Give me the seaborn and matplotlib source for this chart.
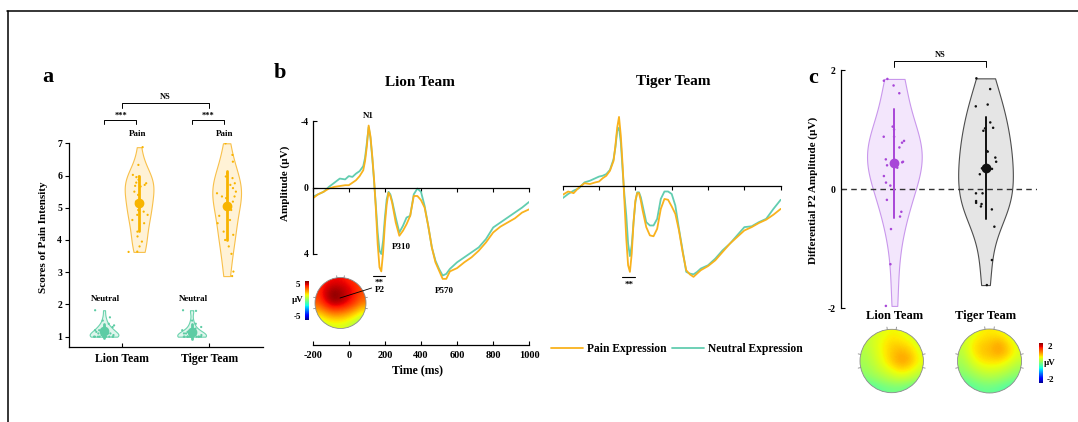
import numpy as np
import pandas as pd
import matplotlib
matplotlib.use("Agg")
import matplotlib.pyplot as plt
import seaborn as sns
from matplotlib.lines import Line2D
from matplotlib.patches import Circle
from matplotlib.colors import to_rgba

# ---------------- data ----------------
TEAMS = ["Lion Team", "Tiger Team"]
CONDS = ["Neutral", "Pain"]

LION_PAIN_SCORE = [6.88, 6.33, 6.02, 5.97, 5.95, 5.87, 5.78, 5.76, 5.71, 5.68, 5.66, 5.50, 5.40,
                   5.19, 5.16, 5.14, 4.93, 4.88, 4.78, 4.78, 4.62, 4.52, 4.26, 4.11, 3.95, 3.80,
                   3.64, 3.63]
TIGER_PAIN_SCORE = [7.00, 6.64, 6.43, 6.07, 5.97, 5.92, 5.76, 5.71, 5.61, 5.50, 5.45, 5.35, 5.35,
                    5.30, 5.19, 4.93, 4.75, 4.62, 4.52, 4.26, 4.16, 4.00, 3.80, 3.57, 3.02, 2.88]
LION_NEUTRAL_SCORE = [1.82, 1.60, 1.50, 1.40, 1.35, 1.30, 1.25, 1.20, 1.20, 1.15, 1.10, 1.10, 1.05,
                      1.00, 1.00, 1.00, 1.00, 1.00, 1.00, 1.00, 1.00, 1.05, 1.10, 1.20, 1.30, 1.15,
                      1.00, 1.00]
TIGER_NEUTRAL_SCORE = [1.82, 1.80, 1.50, 1.40, 1.30, 1.25, 1.20, 1.15, 1.10, 1.10, 1.05, 1.00, 1.00,
                       1.00, 1.00, 1.00, 1.00, 1.00, 1.00, 1.05, 1.10, 1.15, 1.00, 1.00, 1.00, 1.00]

TIME = [-200, -170, -140, -110, -80, -50, -20, 0, 20, 40, 60, 80, 90, 100, 110, 120, 130, 140,
        150, 160, 170, 180, 190, 200, 210, 220, 230, 240, 260, 280, 300, 320, 340, 360, 380, 400,
        420, 440, 460, 480, 500, 520, 540, 560, 600, 640, 680, 720, 760, 800, 840, 880, 920, 960,
        1000]
LION_PAIN_ERP = [0.65, 0.4, 0.25, 0.05, -0.05, -0.1, -0.15, -0.15, -0.3, -0.45, -0.7, -1.05, -1.6,
                 -2.5, -3.75, -3.1, -1.9, -0.5, 1.3, 3.4, 4.8, 5.05, 3.9, 2.2, 1.0, 0.3, 0.5, 0.9,
                 2.1, 2.9, 2.6, 2.2, 1.7, 0.5, 0.5, 0.75, 1.2, 2.3, 3.6, 4.5, 5.0, 5.5, 5.5, 5.05,
                 4.85, 4.5, 4.2, 3.8, 3.3, 2.7, 2.35, 2.1, 1.85, 1.5, 1.3]
LION_NEUTRAL_ERP = [0.55, 0.4, 0.25, -0.05, -0.3, -0.55, -0.5, -0.7, -0.65, -0.85, -1.0, -1.3, -1.8,
                    -2.7, -3.65, -3.0, -1.8, -0.4, 1.1, 2.7, 3.8, 4.0, 3.2, 1.8, 0.7, 0.25, 0.4, 0.8,
                    1.8, 2.7, 2.3, 1.8, 1.7, 0.4, 0.05, 0.25, 1.1, 2.3, 3.6, 4.4, 4.9, 5.3, 5.2, 4.9,
                    4.5, 4.2, 3.9, 3.6, 3.1, 2.4, 2.1, 1.8, 1.5, 1.2, 0.85]
TIGER_PAIN_ERP = [0.55, 0.35, 0.45, 0.1, -0.15, -0.1, -0.2, -0.25, -0.45, -0.6, -0.9, -1.5, -2.4,
                  -3.5, -4.15, -3.0, -1.2, 1.0, 3.2, 4.8, 5.2, 4.1, 2.2, 0.9, 0.45, 0.45, 0.9, 1.5,
                  2.5, 3.0, 3.05, 2.6, 1.4, 0.8, 0.85, 1.25, 1.7, 2.7, 4.0, 5.1, 5.35, 5.5, 5.3, 5.1,
                  4.85, 4.5, 4.0, 3.5, 3.1, 2.7, 2.5, 2.25, 2.05, 1.75, 1.4]
TIGER_NEUTRAL_ERP = [0.75, 0.5, 0.3, 0.15, -0.2, -0.3, -0.45, -0.55, -0.6, -0.7, -0.95, -1.6, -2.3,
                     -3.3, -3.5, -2.6, -0.9, 0.6, 1.8, 3.5, 4.25, 3.6, 2.2, 1.0, 0.4, 0.4, 0.7, 1.2,
                     2.2, 2.4, 2.4, 2.0, 0.8, 0.35, 0.35, 0.5, 1.2, 2.6, 3.9, 5.2, 5.3, 5.35, 5.2, 5.0,
                     4.8, 4.4, 3.9, 3.5, 3.0, 2.5, 2.45, 2.2, 2.0, 1.4, 0.85]

LION_P2_DIFF = [1.85, 1.82, 1.74, 1.61, 1.05, 1.00, 0.88, 0.88, 0.81, 0.78, 0.70, 0.50, 0.46, 0.45,
                0.40, 0.36, 0.22, 0.11, 0.06, -0.18, -0.46, -0.38, -0.67, -1.26, -1.96]
TIGER_P2_DIFF = [1.86, 1.68, 1.42, 1.39, 1.02, 0.98, 1.03, 1.12, 0.63, 0.64, 0.53, 0.46, 0.35, 0.25,
                 0.34, -0.07, -0.07, -0.20, -0.25, -0.23, -0.29, -0.34, -0.63, -1.19, -1.61]

TOPO_LION_B = [[3.5, 3.8, 4.0, 4.0, 3.8, 3.5, 3.2],
               [3.6, 4.2, 4.6, 4.5, 4.2, 3.8, 3.3],
               [3.5, 4.4, 5.0, 4.8, 4.3, 3.8, 3.2],
               [3.2, 4.0, 4.6, 4.5, 4.0, 3.5, 2.8],
               [2.4, 3.0, 3.4, 3.3, 3.0, 2.5, 1.8],
               [1.4, 1.9, 2.2, 2.2, 1.9, 1.4, 0.8],
               [0.6, 1.0, 1.2, 1.2, 1.0, 0.6, 0.2]]
TOPO_LION_C = [[0.3, 0.4, 0.5, 0.6, 0.55, 0.45, 0.35],
               [0.3, 0.45, 0.6, 0.75, 0.7, 0.6, 0.4],
               [0.25, 0.4, 0.6, 0.8, 0.9, 0.8, 0.5],
               [0.2, 0.35, 0.55, 0.8, 1.0, 0.9, 0.55],
               [0.15, 0.25, 0.4, 0.55, 0.7, 0.6, 0.4],
               [0.0, 0.1, 0.2, 0.3, 0.35, 0.3, 0.15],
               [-0.3, -0.2, -0.1, -0.05, -0.05, -0.15, -0.3]]
TOPO_TIGER_C = [[0.3, 0.45, 0.6, 0.65, 0.6, 0.5, 0.35],
                [0.35, 0.6, 0.75, 0.8, 0.95, 0.7, 0.45],
                [0.3, 0.6, 0.8, 0.85, 1.0, 0.8, 0.5],
                [0.2, 0.45, 0.65, 0.7, 0.7, 0.55, 0.35],
                [0.1, 0.25, 0.4, 0.45, 0.4, 0.3, 0.15],
                [-0.05, 0.05, 0.15, 0.2, 0.15, 0.05, -0.05],
                [-0.3, -0.2, -0.1, -0.1, -0.15, -0.25, -0.35]]

# ---------------- colours ----------------
PAIN_FILL, PAIN_EDGE, PAIN_DOT = "#FFF2D6", "#F8C04A", "#F8B400"
NEU_FILL, NEU_EDGE, NEU_DOT = "#DFF5EC", "#6CD3AE", "#5DCCA4"
ERP_PAIN, ERP_NEU = "#F9B21D", "#62CDB0"
LION_FILL, LION_EDGE, LION_DOT = "#F3E6FC", "#C997EC", "#A846D8"
TIGER_FILL, TIGER_EDGE, TIGER_DOT = "#E5E5E5", "#4D4D4D", "#111111"

# ---------------- setup ----------------
sns.set_theme(style="ticks", rc={"axes.edgecolor": "black", "xtick.color": "black",
                                 "ytick.color": "black", "text.color": "black",
                                 "axes.labelcolor": "black"})
plt.rcParams['font.family'] = ['Liberation Serif', 'DejaVu Serif']
plt.rcParams['font.weight'] = 'bold'
plt.rcParams['axes.labelweight'] = 'bold'
plt.rcParams['axes.unicode_minus'] = False

W, H = 1078, 422
fig = plt.figure(figsize=(W / 100, H / 100), dpi=100)


def box(x0, y0, x1, y1):
    return fig.add_axes([x0 / W, 1 - y1 / H, (x1 - x0) / W, (y1 - y0) / H])


def ftext(x, y, s, **kw):
    kw.setdefault("ha", "center")
    kw.setdefault("va", "center")
    kw.setdefault("fontweight", "bold")
    return fig.text(x / W, 1 - y / H, s, **kw)


def fline(xs, ys, **kw):
    fig.add_artist(Line2D([x / W for x in xs], [1 - y / H for y in ys],
                          transform=fig.transFigure, **kw))


def recolor_edges(ax, mapping):
    for coll in ax.collections:
        fc = coll.get_facecolor()
        if len(fc) == 0:
            continue
        for fill, edge in mapping.items():
            if np.allclose(fc[0][:3], to_rgba(fill)[:3], atol=0.01):
                coll.set_edgecolor(edge)


# frame lines
fline([7, 1078], [10.5, 10.5], color="black", lw=1.1)
fline([7.5, 7.5], [10.5, 422], color="black", lw=1.1)

# ---------------- panel a ----------------
rows = []
for team, cond, vals in [("Lion Team", "Neutral", LION_NEUTRAL_SCORE),
                         ("Lion Team", "Pain", LION_PAIN_SCORE),
                         ("Tiger Team", "Neutral", TIGER_NEUTRAL_SCORE),
                         ("Tiger Team", "Pain", TIGER_PAIN_SCORE)]:
    rows += [(team, cond, v) for v in vals]
dfA = pd.DataFrame(rows, columns=["team", "cond", "score"])

axA = box(69, 143.3, 263, 347.3)
sns.violinplot(data=dfA, x="team", y="score", hue="cond", order=TEAMS, hue_order=CONDS,
               palette={"Neutral": NEU_FILL, "Pain": PAIN_FILL}, cut=0, density_norm="width",
               width=0.8, gap=0.18, inner=None, saturation=1, linewidth=0.8, legend=False, ax=axA)
recolor_edges(axA, {NEU_FILL: NEU_EDGE, PAIN_FILL: PAIN_EDGE})
np.random.seed(7)
sns.stripplot(data=dfA, x="team", y="score", hue="cond", order=TEAMS, hue_order=CONDS,
              palette={"Neutral": NEU_DOT, "Pain": PAIN_DOT}, dodge=True, jitter=0.24, size=1.6,
              legend=False, ax=axA)
sns.pointplot(data=dfA, x="team", y="score", hue="cond", order=TEAMS, hue_order=CONDS,
              palette={"Neutral": NEU_DOT, "Pain": PAIN_DOT}, errorbar="sd", dodge=0.4,
              linestyle="none", markersize=5, err_kws={"linewidth": 2}, legend=False, ax=axA)
axA.set_xlim(-0.60, 1.615)
axA.set_ylim(0.67, 7.0)
axA.set_yticks([1, 2, 3, 4, 5, 6, 7])
axA.spines[["top", "right"]].set_visible(False)
axA.tick_params(axis="y", direction="out", length=3, width=0.8, labelsize=7, pad=2)
axA.tick_params(axis="x", direction="in", length=3, width=0.8, labelsize=8.5, pad=4)
axA.set_xlabel("")
axA.set_ylabel("")
for s in axA.spines.values():
    s.set_linewidth(0.9)
ftext(43, 237, "Scores of Pain Intensity", rotation=90, fontsize=8)
for xc in (0, 1):
    axA.text(xc + 0.18, 7.3, "Pain", ha="center", va="center", fontsize=6.5, fontweight="bold")
    axA.text(xc - 0.18, 2.17, "Neutral", ha="center", va="center", fontsize=6.5, fontweight="bold")
    axA.plot([xc - 0.2, xc - 0.2, xc + 0.17, xc + 0.17], [7.61, 7.73, 7.73, 7.61],
             color="black", lw=0.7, clip_on=False)
    axA.text(xc - 0.01, 7.86, "***", ha="center", va="center", fontsize=6, fontweight="bold")
axA.plot([0, 0, 1, 1], [8.10, 8.26, 8.26, 8.10], color="black", lw=0.7, clip_on=False)
axA.text(0.5, 8.45, "NS", ha="center", va="center", fontsize=6, fontweight="bold")
ftext(48, 77, "a", fontsize=16)

# ---------------- panel b ----------------
rows = []
for team, cond, vals in [("Lion Team", "Neutral", LION_NEUTRAL_ERP),
                         ("Lion Team", "Pain", LION_PAIN_ERP),
                         ("Tiger Team", "Neutral", TIGER_NEUTRAL_ERP),
                         ("Tiger Team", "Pain", TIGER_PAIN_ERP)]:
    rows += [(team, cond, t, v) for t, v in zip(TIME, vals)]
dfB = pd.DataFrame(rows, columns=["team", "cond", "time", "amp"])
YLIM = (9.49, -5.29)
XT = [-200, 0, 200, 400, 600, 800, 1000]

axL = box(312.7, 100, 529.3, 345)
axT = box(562.7, 98, 780.7, 343)
for ax, team in [(axL, "Lion Team"), (axT, "Tiger Team")]:
    sns.lineplot(data=dfB[dfB.team == team], x="time", y="amp", hue="cond",
                 hue_order=["Neutral", "Pain"], palette={"Neutral": ERP_NEU, "Pain": ERP_PAIN},
                 linewidth=1.3, legend=False, ax=ax)
    ax.set_xlim(-200, 1000)
    ax.set_ylim(*YLIM)
    ax.set_xticks(XT)
    ax.set_xlabel("")
    ax.set_ylabel("")
    ax.spines["right"].set_visible(False)
    ax.spines["top"].set_position(("data", 0))
    ax.spines["top"].set_linewidth(0.9)
    ax.tick_params(axis="x", top=True, direction="in", length=3, width=0.8, labelsize=7.5, pad=4)

axL.spines["left"].set_bounds(-4, 4)
axL.spines["left"].set_linewidth(0.9)
axL.spines["bottom"].set_linewidth(0.9)
axL.set_yticks([-4, 0, 4])
axL.tick_params(axis="y", direction="in", length=3, width=0.8, labelsize=7, pad=3)
axL.tick_params(axis="x", labeltop=False)

axT.spines[["left", "bottom"]].set_visible(False)
axT.set_yticks([])
axT.tick_params(axis="x", bottom=False, labelbottom=False, labeltop=False)

ftext(420, 83, "Lion Team", fontsize=11)
ftext(673, 81, "Tiger Team", fontsize=11)
ftext(285, 183, "Amplitude (µV)", rotation=90, fontsize=8)
ftext(417, 370, "Time (ms)", fontsize=8.5)
ftext(280, 73, "b", fontsize=16)

tk = dict(ha="center", va="center", fontsize=6.5, fontweight="bold")
axL.text(108, -4.3, "N1", **tk)
axL.text(292, 3.6, "P310", **tk)
axL.text(527, 6.25, "P570", **tk)
axL.text(170, 6.15, "P2", **tk)
axL.plot([136, 202], [5.34, 5.34], color="black", lw=0.8)
axL.text(169, 5.75, "**", **tk)
axT.plot([125, 198], [5.5, 5.5], color="black", lw=0.8)
axT.text(165, 5.95, "**", **tk)

fig.legend(handles=[Line2D([], [], color=ERP_PAIN, lw=1.3), Line2D([], [], color=ERP_NEU, lw=1.3)],
           labels=["Pain Expression", "Neutral Expression"], loc="center left",
           bbox_to_anchor=(551 / W, 1 - 349 / H), ncol=2, frameon=False,
           prop={"weight": "bold", "size": 8.3}, handlelength=2.8, handletextpad=0.3,
           columnspacing=0.5, borderaxespad=0, borderpad=0)


def topo(cx, cy, r, grid, vmin, vmax):
    s = r * 1.2
    ax = box(cx - s, cy - s, cx + s, cy + s)
    im = ax.imshow(np.array(grid), extent=(-1, 1, -1, 1), origin="upper", cmap="jet",
                   vmin=vmin, vmax=vmax, interpolation="bicubic")
    circ = Circle((0, 0), 1, fc="none", ec="#8a8a8a", lw=0.6)
    ax.add_patch(circ)
    im.set_clip_path(circ)
    for ang in (82, 98, 168, 192, -12, 12):
        a = np.deg2rad(ang)
        ax.plot([np.cos(a), 1.08 * np.cos(a)], [np.sin(a), 1.08 * np.sin(a)], color="#8a8a8a",
                lw=0.6)
    ax.set_xlim(-1.2, 1.2)
    ax.set_ylim(-1.2, 1.2)
    ax.axis("off")
    return im


def cbar(im, x0, y0, x1, y1, top, bottom, lx):
    cax = box(x0, y0, x1, y1)
    cb = fig.colorbar(im, cax=cax)
    cb.set_ticks([])
    cb.outline.set_visible(False)
    ftext(lx, y0 + 4, top, fontsize=6.5)
    ftext(lx, (y0 + y1) / 2, "µV", fontsize=6.5)
    ftext(lx, y1 - 3, bottom, fontsize=6.5)


imB = topo(340.5, 303, 25.5, TOPO_LION_B, -5, 5)
cbar(imB, 305, 281, 309.3, 320, "5", "-5", 297.5)
fline([340, 371.7], [298, 288], color="black", lw=0.6)

# ---------------- panel c ----------------
rows = [("Lion Team", v) for v in LION_P2_DIFF] + [("Tiger Team", v) for v in TIGER_P2_DIFF]
dfC = pd.DataFrame(rows, columns=["team", "amp"])
axC = box(840.7, 70, 1037, 308.3)
sns.violinplot(data=dfC, x="team", y="amp", hue="team", order=TEAMS, hue_order=TEAMS,
               palette={"Lion Team": LION_FILL, "Tiger Team": TIGER_FILL}, cut=0,
               density_norm="width", width=0.6, inner=None, saturation=1, linewidth=0.8,
               legend=False, ax=axC)
recolor_edges(axC, {LION_FILL: LION_EDGE, TIGER_FILL: TIGER_EDGE})
axC.axhline(0, color="#333333", lw=1.0, ls=(0, (4, 3)), zorder=1.5)
np.random.seed(11)
sns.stripplot(data=dfC, x="team", y="amp", hue="team", order=TEAMS, hue_order=TEAMS,
              palette={"Lion Team": LION_DOT, "Tiger Team": TIGER_DOT}, jitter=0.12, size=1.8,
              legend=False, zorder=2, ax=axC)
sns.pointplot(data=dfC, x="team", y="amp", hue="team", order=TEAMS, hue_order=TEAMS,
              palette={"Lion Team": LION_DOT, "Tiger Team": TIGER_DOT}, errorbar="sd",
              linestyle="none", markersize=5, err_kws={"linewidth": 1.4}, legend=False, ax=axC)
axC.set_xlim(-0.589, 1.565)
axC.set_ylim(-2, 2)
axC.set_yticks([-2, 0, 2])
axC.spines[["top", "right", "bottom"]].set_visible(False)
axC.spines["left"].set_linewidth(0.9)
axC.tick_params(axis="y", direction="in", length=3, width=0.8, labelsize=7, pad=4)
axC.tick_params(axis="x", length=0, labelsize=9, pad=1)
axC.set_xlabel("")
axC.set_ylabel("")
axC.plot([0, 0, 1, 1], [2.055, 2.15, 2.15, 2.055], color="black", lw=0.7, clip_on=False)
axC.text(0.5, 2.25, "NS", ha="center", va="center", fontsize=6, fontweight="bold")
ftext(812.7, 190, "Differential P2 Amplitude (µV)", rotation=90, fontsize=8)
ftext(813, 78, "c", fontsize=16)

imC = topo(891.7, 361, 31.7, TOPO_LION_C, -2, 2)
topo(989.5, 361, 32, TOPO_TIGER_C, -2, 2)
cbar(imC, 1039.3, 342.7, 1042.7, 383.3, "2", "-2", 1050)

fig.savefig("out.png", dpi=100)
